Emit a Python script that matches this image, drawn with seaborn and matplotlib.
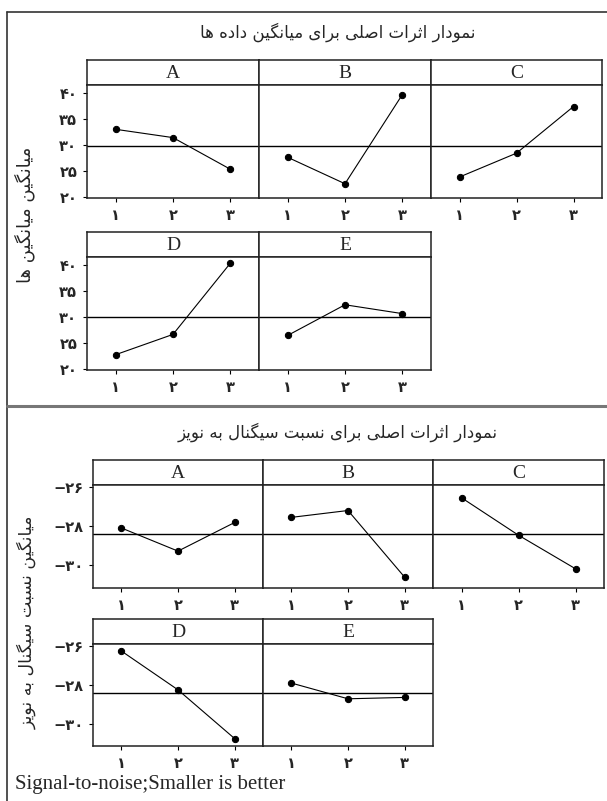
import matplotlib
matplotlib.use("Agg")
import matplotlib.pyplot as plt
from matplotlib.lines import Line2D
from matplotlib.ticker import FuncFormatter
import seaborn as sns
import numpy as np

sns.set_style("white")
plt.rcParams["font.family"] = ["DejaVu Sans"]

# ---------------- data ----------------
levels = [1, 2, 3]
factors_top = ["A", "B", "C", "D", "E"]
means_A = [33.0, 31.4, 25.3]
means_B = [27.6, 22.5, 39.7]
means_C = [23.8, 28.4, 37.4]
means_D = [22.7, 26.6, 40.3]
means_E = [26.4, 32.3, 30.6]
means_data = [means_A, means_B, means_C, means_D, means_E]

sn_A = [-28.09, -29.27, -27.81]
sn_B = [-27.55, -27.2, -30.6]
sn_C = [-26.55, -28.46, -30.17]
sn_D = [-26.26, -28.26, -30.77]
sn_E = [-27.91, -28.72, -28.65]
sn_data = [sn_A, sn_B, sn_C, sn_D, sn_E]

means_yticks = [20, 25, 30, 35, 40]
sn_yticks = [-30, -28, -26]

title_top = "نمودار اثرات اصلی برای میانگین داده ها"
title_bot = "نمودار اثرات اصلی برای نسبت سیگنال به نویز"
ylabel_top = "میانگین میانگین ها"
ylabel_bot = "میانگین نسبت سیگنال به نویز"
footer = "Signal-to-noise;Smaller is better"

# ---------------- Persian shaping (matplotlib has no bidi/shaping) ----------------
FORMS = {
    "ا": ("\uFE8D", "\uFE8E", None, None),
    "ب": ("\uFE8F", "\uFE90", "\uFE91", "\uFE92"),
    "ت": ("\uFE95", "\uFE96", "\uFE97", "\uFE98"),
    "ث": ("\uFE99", "\uFE9A", "\uFE9B", "\uFE9C"),
    "د": ("\uFEA9", "\uFEAA", None, None),
    "ر": ("\uFEAD", "\uFEAE", None, None),
    "ز": ("\uFEAF", "\uFEB0", None, None),
    "س": ("\uFEB1", "\uFEB2", "\uFEB3", "\uFEB4"),
    "ص": ("\uFEB9", "\uFEBA", "\uFEBB", "\uFEBC"),
    "ل": ("\uFEDD", "\uFEDE", "\uFEDF", "\uFEE0"),
    "م": ("\uFEE1", "\uFEE2", "\uFEE3", "\uFEE4"),
    "ن": ("\uFEE5", "\uFEE6", "\uFEE7", "\uFEE8"),
    "ه": ("\uFEE9", "\uFEEA", "\uFEEB", "\uFEEC"),
    "و": ("\uFEED", "\uFEEE", None, None),
    "ی": ("\uFBFC", "\uFBFD", "\uFBFE", "\uFBFF"),
    "گ": ("\uFB92", "\uFB93", "\uFB94", "\uFB95"),
}
RIGHT_ONLY = set("ادذرزژو")


def fa(text):
    out = []
    for i, c in enumerate(text):
        if c not in FORMS:
            out.append(c)
            continue
        prev = text[i - 1] if i > 0 else None
        nxt = text[i + 1] if i + 1 < len(text) else None
        jp = prev in FORMS and prev not in RIGHT_ONLY
        jn = nxt in FORMS and c not in RIGHT_ONLY
        iso, fin, ini, med = FORMS[c]
        if jp and jn:
            out.append(med)
        elif jp:
            out.append(fin)
        elif jn:
            out.append(ini)
        else:
            out.append(iso)
    return "".join(reversed(out))


FA_DIGITS = str.maketrans("0123456789-", "۰۱۲۳۴۵۶۷۸۹\u2212")


def fa_num(v, pos=None):
    return str(int(round(v))).translate(FA_DIGITS)


# ---------------- layout helpers ----------------
W, H = 607, 801
fig = plt.figure(figsize=(W / 100, H / 100), dpi=100)
fig.patch.set_facecolor("white")


def rect(x0, y0, x1, y1):
    return [x0 / W, 1 - y1 / H, (x1 - x0) / W, (y1 - y0) / H]


def panel(x0, x1, ys, ye, ps, name, vals, ylim, yticks, show_y):
    # strip
    sax = fig.add_axes(rect(x0, ys, x1, ye))
    sax.set_xticks([]); sax.set_yticks([])
    for s in sax.spines.values():
        s.set_color("#222222"); s.set_linewidth(1.1)
    sax.text(0.5, 0.45, name, ha="center", va="center", fontsize=14,
             family="Liberation Serif", transform=sax.transAxes)
    # plot
    ax = fig.add_axes(rect(x0, ye, x1, ps))
    sns.lineplot(x=levels, y=vals, ax=ax, color="black", linewidth=0.8,
                 marker="o", markersize=4.5, markeredgecolor="black")
    ax.set_xlim(0.5, 3.5)
    ax.set_ylim(*ylim)
    ax.set_xticks(levels)
    ax.xaxis.set_major_formatter(FuncFormatter(fa_num))
    ax.set_yticks(yticks)
    ax.yaxis.set_major_formatter(FuncFormatter(fa_num))
    ax.tick_params(axis="both", direction="out", length=3, width=0.8,
                   labelsize=10.5, pad=4, color="black", bottom=True, left=show_y)
    ax.tick_params(axis="y", labelleft=show_y)
    for lab in ax.get_xticklabels() + ax.get_yticklabels():
        lab.set_fontweight("bold")
    for s in ax.spines.values():
        s.set_color("#222222"); s.set_linewidth(1.1)
    ax.set_xlabel(""); ax.set_ylabel("")
    return ax


def half(data, grand, xs, rows, ylim, yticks):
    axes = []
    for i, (name, vals) in enumerate(zip(factors_top, data)):
        r, c = divmod(i, 3)
        x0, x1 = xs[c], xs[c + 1]
        ys, ye, ps = rows[r]
        ax = panel(x0, x1, ys, ye, ps, name, vals, ylim, yticks, c == 0)
        ax.axhline(grand, color="black", linewidth=1.0, zorder=1)
        axes.append(ax)
    return axes


grand_means = np.mean(np.concatenate([np.array(d) for d in means_data]))
grand_sn = np.mean(np.concatenate([np.array(d) for d in sn_data]))

# top half
half(means_data, grand_means, [87, 259, 431, 602],
     [(60, 85, 198), (231.7, 256.7, 370)], (19.75, 41.55), means_yticks)
# bottom half
half(sn_data, grand_sn, [93, 263, 433, 604],
     [(460, 485, 588), (619, 644, 746)], (-31.15, -25.9), sn_yticks)

# titles and labels
fig.text(338 / W, 1 - 32 / H, fa(title_top), ha="center", va="center", fontsize=12)
fig.text(338 / W, 1 - 432 / H, fa(title_bot), ha="center", va="center", fontsize=12)
fig.text(25 / W, 1 - 215 / H, fa(ylabel_top), ha="center", va="center",
         rotation=90, fontsize=13)
fig.text(27 / W, 1 - 622 / H, fa(ylabel_bot), ha="center", va="center",
         rotation=90, fontsize=12.5)
fig.text(15 / W, 1 - 785 / H, footer, ha="left", va="center", fontsize=15,
         family="Liberation Serif")

# frame lines
fig.add_artist(Line2D([7 / W, 1], [1 - 12 / H, 1 - 12 / H], color="#333333", lw=1.2,
                      transform=fig.transFigure))
fig.add_artist(Line2D([7 / W, 7 / W], [1 - 12 / H, 0], color="#333333", lw=1.2,
                      transform=fig.transFigure))
fig.add_artist(Line2D([7 / W, 1], [1 - 406 / H, 1 - 406 / H], color="#777777", lw=2.2,
                      transform=fig.transFigure))

fig.savefig("out.png", dpi=100, facecolor="white")
